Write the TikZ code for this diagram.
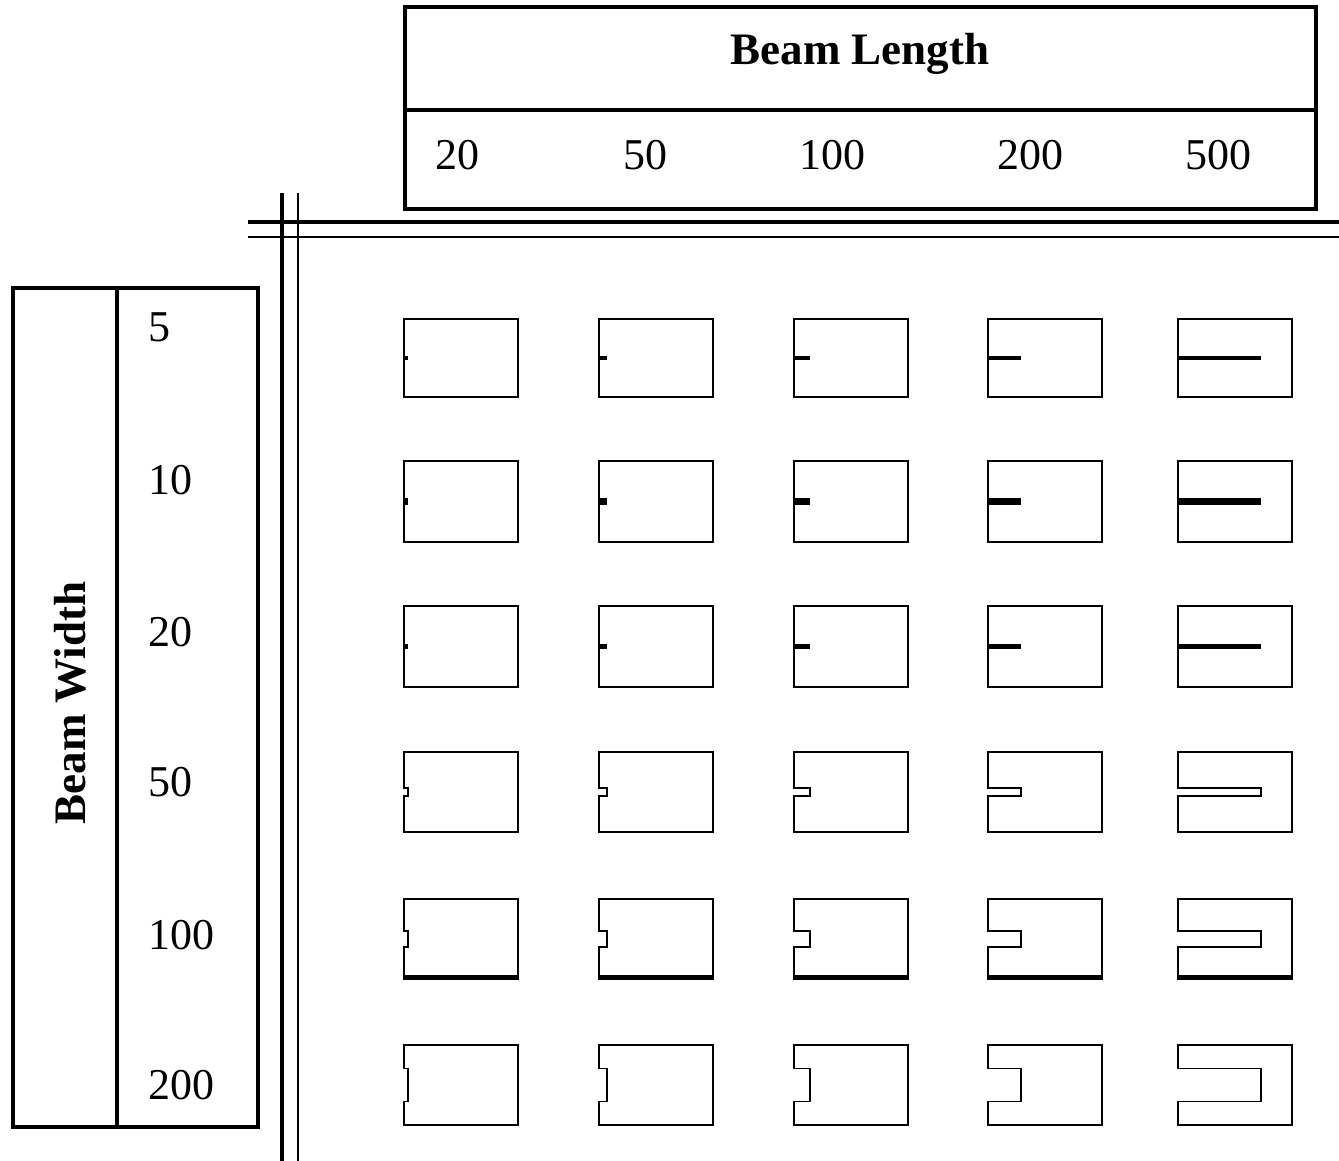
\documentclass[tikz,border=0pt]{standalone}
\usepackage{fontspec}
\setmainfont{Liberation Serif}
\begin{document}
\begin{tikzpicture}[x=0.5pt,y=-0.5pt,
    frame/.style={line width=1.8pt},
    cell/.style={line width=0.9pt},
    lbl/.style={font=\fontsize{22}{26}\selectfont, inner sep=0pt},
    title/.style={font=\fontsize{22.5}{26}\selectfont\bfseries, inner sep=0pt}]
    \useasboundingbox (0,0) rectangle (1339,1161);
    % beam length table
    \draw [frame] (405,7) rectangle (1316,209);
    \draw [frame] (405,110) -- (1316,110);
    \node [title] (lentitle) at (860,54) {Beam Length};
    \foreach \x/\v [count=\i] in {457/20,645/50,832/100,1030/200,1218/500}
        \node [lbl] (len\i) at (\x,155) {\v};
    % beam width table
    \draw [frame] (13,288) rectangle (258,1127);
    \draw [frame] (117,288) -- (117,1127);
    \node [title, rotate=90] (widtitle) at (70,703) {Beam Width};
    \foreach \y/\v [count=\i] in {327/5,480/10,632/20,782/50,935/100,1085/200}
        \node [lbl, anchor=west] (wid\i) at (148,\y) {\v};
    % double rules
    \draw [line width=2pt] (248,222) -- (1339,222);
    \draw [line width=1pt] (248,237) -- (1339,237);
    \draw [line width=2pt] (282,193) -- (282,1161);
    \draw [line width=1pt] (298,193) -- (298,1161);
    % cells
    \foreach \x/\d in {404/4,599/8,794/16,988/33,1178/83} {
        \foreach \t/\b/\s in {319/397/4.5,461/542/7,606/687/4.5} {
            \draw [cell] (\x,\t) rectangle (\x+114,\b);
            \fill (\x,{(\t+\b)/2-\s/2}) rectangle (\x+\d,{(\t+\b)/2+\s/2});
        }
        \foreach \t/\b/\h in {752/832/8,899/979/16,1045/1125/33} {
            \draw [cell] (\x,\t) -- (\x+114,\t) -- (\x+114,\b) -- (\x,\b)
                -- (\x,{(\t+\b)/2+\h/2}) -- (\x+\d,{(\t+\b)/2+\h/2})
                -- (\x+\d,{(\t+\b)/2-\h/2}) -- (\x,{(\t+\b)/2-\h/2}) -- cycle;
        }
        \draw [line width=2pt] (\x,977) -- (\x+114,977);
    }
\end{tikzpicture}
\end{document}
